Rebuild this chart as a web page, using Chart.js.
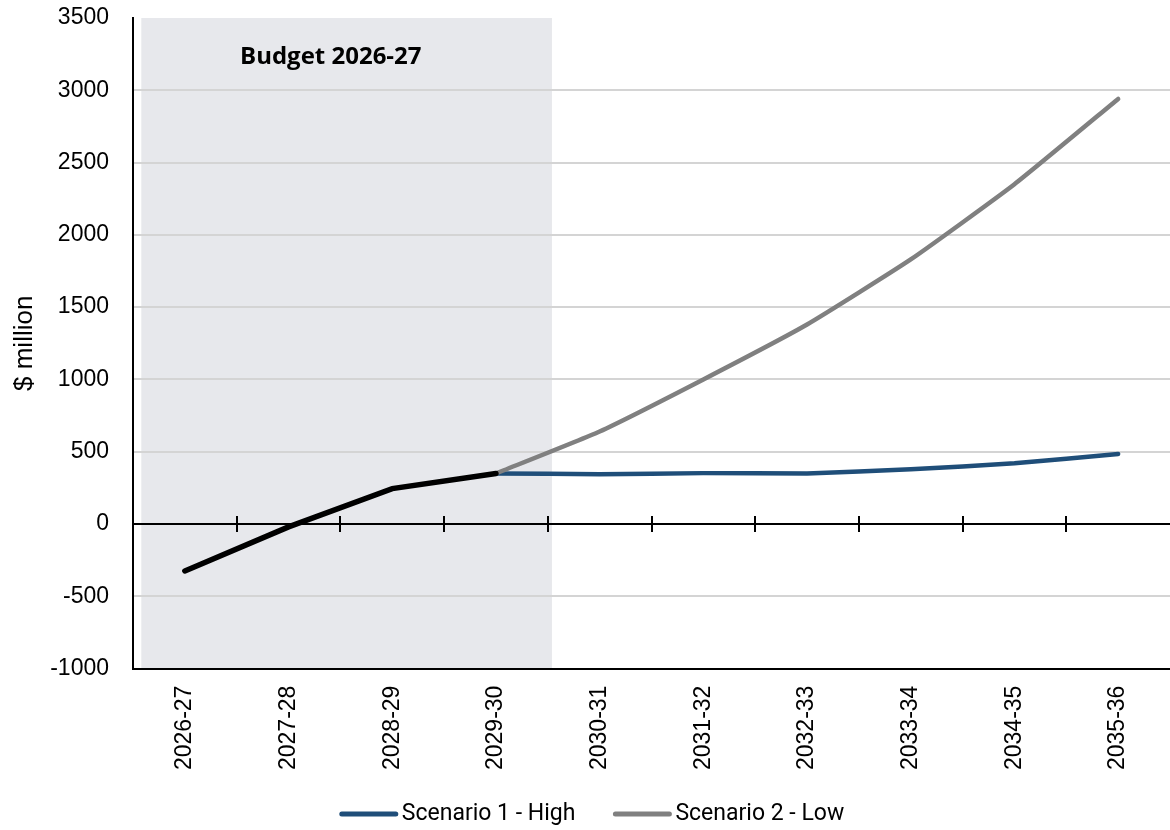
<!DOCTYPE html>
<html>
<head>
<meta charset="utf-8">
<script src="https://cdn.jsdelivr.net/npm/chart.js@4.4.1/dist/chart.umd.min.js"></script>
<style>
  html, body { margin: 0; padding: 0; background: #fff; }
  #wrap { width: 1170px; height: 830px; }
</style>
</head>
<body>
<div id="wrap"><canvas id="grafico"></canvas></div>
<script>
// === DATOS ===
const years = ['2026-27', '2027-28', '2028-29', '2029-30', '2030-31',
               '2031-32', '2032-33', '2033-34', '2034-35', '2035-36'];
const budget  = [-325, -20, 245, 350, null, null, null, null, null, null];
const highS1  = [null, null, null, 350, 345, 352, 350, 378, 420, 485];
const lowS2   = [null, null, null, 350, 640, 1000, 1380, 1830, 2350, 2940];
const yTicks  = [-1000, -500, 0, 500, 1000, 1500, 2000, 2500, 3000, 3500];
const budgetYears = 4;   // primeros ejercicios del presupuesto (zona sombreada)
const budgetLabel = 'Budget 2026-27';

const NAVY = '#1f4e79';
const GREY = '#808080';

// zona sombreada + etiqueta, antes de la rejilla
const sombra = {
  id: 'sombra',
  beforeDraw(chart) {
    const { ctx, chartArea, scales: { x } } = chart;
    const band = x.getPixelForValue(1) - x.getPixelForValue(0);
    const x0 = x.getPixelForValue(0) - band * 0.42;
    const x1 = x.getPixelForValue(budgetYears - 1) + band * 0.54;
    ctx.save();
    ctx.fillStyle = '#e7e8ec';
    ctx.fillRect(x0, chartArea.top, x1 - x0, chartArea.bottom - chartArea.top);
    ctx.fillStyle = '#000';
    ctx.font = 'bold 24px "Open Sans", sans-serif';
    ctx.textBaseline = 'middle';
    ctx.fillText(budgetLabel, chartArea.left + 107, chartArea.top + 39);
    ctx.restore();
  }
};

// linea del cero con sus marcas entre categorias
const ejeCero = {
  id: 'ejeCero',
  beforeDatasetsDraw(chart) {
    const { ctx, chartArea, scales: { x, y } } = chart;
    const y0 = Math.round(y.getPixelForValue(0));
    ctx.save();
    ctx.strokeStyle = '#000';
    ctx.lineWidth = 2;
    ctx.beginPath();
    ctx.moveTo(chartArea.left, y0);
    ctx.lineTo(chartArea.right, y0);
    for (let i = 0; i < years.length - 1; i++) {
      const xm = Math.round((x.getPixelForValue(i) + x.getPixelForValue(i + 1)) / 2);
      ctx.moveTo(xm, y0 - 8);
      ctx.lineTo(xm, y0 + 8);
    }
    ctx.stroke();
    ctx.restore();
  }
};

// leyenda propia (solo escenarios), centrada abajo
const leyenda = {
  id: 'leyenda',
  afterDraw(chart) {
    const { ctx, width, height } = chart;
    const items = chart.data.datasets.filter(ds => ds.label !== 'Budget');
    const lineW = 58, gapTxt = 4, gapItem = 38;
    ctx.save();
    ctx.font = '23px Roboto, sans-serif';
    const widths = items.map(ds => lineW + gapTxt + ctx.measureText(ds.label).width);
    const total = widths.reduce((a, b) => a + b, 0) + gapItem * (items.length - 1);
    let cx = width / 2 + 7 - total / 2;
    const cy = height - 16;
    ctx.textBaseline = 'middle';
    ctx.lineCap = 'round';
    items.forEach((ds, i) => {
      ctx.strokeStyle = ds.borderColor;
      ctx.lineWidth = 5;
      ctx.beginPath();
      ctx.moveTo(cx + 2, cy);
      ctx.lineTo(cx + lineW - 2, cy);
      ctx.stroke();
      ctx.fillStyle = '#000';
      ctx.fillText(ds.label, cx + lineW + gapTxt, cy);
      cx += widths[i] + gapItem;
    });
    ctx.restore();
  }
};

new Chart(document.getElementById('grafico'), {
  type: 'line',
  data: {
    labels: years,
    datasets: [
      { label: 'Scenario 1 - High', data: highS1, borderColor: NAVY, backgroundColor: NAVY,
        borderWidth: 4.5, tension: 0.15, pointRadius: 0, borderCapStyle: 'round', order: 2 },
      { label: 'Scenario 2 - Low', data: lowS2, borderColor: GREY, backgroundColor: GREY,
        borderWidth: 4.5, tension: 0.15, pointRadius: 0, borderCapStyle: 'round', order: 1 },
      { label: 'Budget', data: budget, borderColor: '#000', backgroundColor: '#000',
        borderWidth: 5.5, tension: 0, pointRadius: 0, borderCapStyle: 'round', order: 0 }
    ]
  },
  options: {
    responsive: true,
    maintainAspectRatio: false,
    animation: false,
    layout: { padding: { top: 18, right: -5, left: 9, bottom: 43 } },
    plugins: {
      tooltip: { enabled: false },
      legend: { display: false }
    },
    scales: {
      x: {
        offset: true,
        grid: { display: false, drawTicks: false },
        border: { display: true, color: '#000', width: 2 },
        ticks: {
          color: '#000', font: { family: 'Liberation Sans', size: 23 },
          maxRotation: 90, minRotation: 90, padding: 17
        }
      },
      y: {
        min: -1000, max: 3500,
        afterBuildTicks: (axis) => { axis.ticks = yTicks.map(v => ({ value: v })); },
        afterFit: (axis) => { axis.width = 124; axis.paddingTop = 0; axis.paddingBottom = 0; },
        grid: {
          color: (c) => (c.tick && (c.tick.value === 3500 || c.tick.value === 0)) ? 'rgba(0,0,0,0)' : '#d4d4d4',
          lineWidth: 2, drawTicks: false
        },
        border: { display: true, color: '#000', width: 2 },
        ticks: {
          color: '#000', font: { family: 'Liberation Sans', size: 23 }, padding: 24,
          callback: (v) => String(v)
        },
        title: { display: true, text: '$ million', color: '#000',
                 font: { family: 'Liberation Sans', size: 26 }, padding: { top: 0, bottom: 4 } }
      }
    }
  },
  plugins: [sombra, ejeCero, leyenda]
});
</script>
</body>
</html>
